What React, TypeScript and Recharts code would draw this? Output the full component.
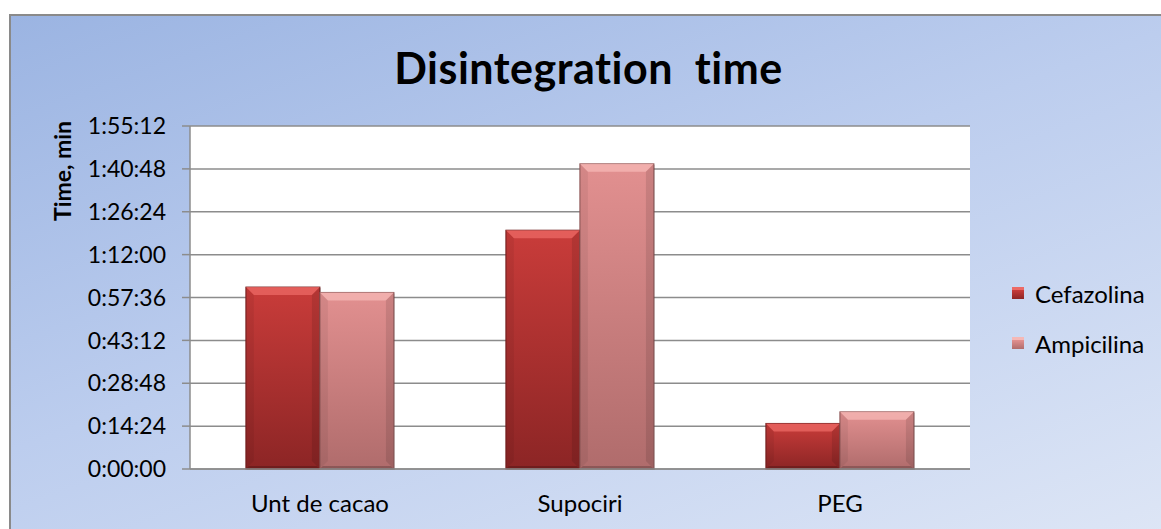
import { BarChart, Bar, XAxis, YAxis, CartesianGrid } from "recharts";

// disintegration time, in minutes
const categories = ["Unt de cacao", "Supociri", "PEG"];
const cefazolina = [61.1, 80.2, 15.3];
const ampicilina = [59.3, 102.5, 19.2];
const yTicks = [0, 14.4, 28.8, 43.2, 57.6, 72, 86.4, 100.8, 115.2];

const data = categories.map((name, i) => ({
  name,
  Cefazolina: cefazolina[i],
  Ampicilina: ampicilina[i],
}));

const FONT = "Lato, 'Open Sans', sans-serif";
const GRID = "#8c8c8c";

const toClock = (min: number) => {
  const s = Math.round(min * 60);
  const h = Math.floor(s / 3600);
  const m = Math.floor((s % 3600) / 60);
  const sec = s % 60;
  return `${h}:${String(m).padStart(2, "0")}:${String(sec).padStart(2, "0")}`;
};

const palette: Record<string, { top: string; bottom: string; light: string; edge: string }> = {
  Cefazolina: { top: "#c93c3a", bottom: "#8c2525", light: "#ec6a66", edge: "#6e1c1c" },
  Ampicilina: { top: "#e29090", bottom: "#b06c6c", light: "#f5b8b6", edge: "#8a5454" },
};

const BevelBar = (props: any) => {
  const { x, y, width, height, dataKey } = props;
  if (!height || height <= 0) return null;
  const c = palette[dataKey];
  const b = Math.min(8, height / 2);
  return (
    <g>
      <rect x={x + 1} y={y + 1} width={width} height={height} fill="rgba(0,0,0,0.18)" />
      <rect x={x} y={y} width={width} height={height} fill={`url(#grad-${dataKey})`} stroke={c.edge} strokeWidth={1} />
      <polygon
        points={`${x},${y} ${x + width},${y} ${x + width - b},${y + b} ${x + b},${y + b}`}
        fill={c.light}
        opacity={0.75}
      />
      <polygon
        points={`${x},${y} ${x + b},${y + b} ${x + b},${y + height - b} ${x},${y + height}`}
        fill="rgba(0,0,0,0.06)"
      />
      <polygon
        points={`${x + width},${y} ${x + width - b},${y + b} ${x + width - b},${y + height - b} ${x + width},${y + height}`}
        fill="rgba(0,0,0,0.1)"
      />
      <polygon
        points={`${x},${y + height} ${x + 3},${y + height - 3} ${x + width - 3},${y + height - 3} ${x + width},${y + height}`}
        fill="rgba(0,0,0,0.2)"
      />
    </g>
  );
};

const LegendBox = () => (
  <div style={{ position: "absolute", left: 1012, top: 268, fontFamily: FONT, fontSize: 24, color: "#000" }}>
    {["Cefazolina", "Ampicilina"].map((k) => (
      <div key={k} style={{ display: "flex", alignItems: "center", height: 50 }}>
        <span
          style={{
            display: "inline-block",
            width: 12,
            height: 12,
            marginRight: 11,
            background: `linear-gradient(${palette[k].top}, ${palette[k].bottom})`,
            borderTop: `3px solid ${palette[k].light}`,
            boxSizing: "border-box",
          }}
        />
        {k}
      </div>
    ))}
  </div>
);

export default function App() {
  return (
    <div style={{ position: "absolute", left: 0, top: 0, width: 1161, height: 529, background: "#fff", overflow: "hidden" }}>
      <div
        style={{
          position: "absolute",
          left: 9,
          top: 14,
          width: 1170,
          height: 540,
          border: "2px solid #8a8a8a",
          background: "linear-gradient(160deg, #9bb4e2 0%, #bccdee 45%, #dfe7f6 100%)",
        }}
      />
      <div
        style={{
          position: "absolute",
          left: 0,
          width: 1177,
          top: 42,
          textAlign: "center",
          fontFamily: FONT,
          fontWeight: 700,
          fontSize: 43,
          letterSpacing: 0.5,
          color: "#000",
        }}
      >
        Disintegration&nbsp;&nbsp;time
      </div>
      <div
        style={{
          position: "absolute",
          left: 62,
          top: 171,
          transform: "translate(-50%, -50%) rotate(-90deg)",
          whiteSpace: "nowrap",
          fontFamily: FONT,
          fontWeight: 700,
          fontSize: 23,
          color: "#000",
        }}
      >
        Time, min
      </div>
      <div style={{ position: "absolute", left: 0, top: 0 }}>
        <BarChart
          width={1161}
          height={529}
          data={data}
          margin={{ top: 126, right: 191, bottom: 0, left: 0 }}
          barCategoryGap="21.5%"
          barGap={0}
        >
          <defs>
            {Object.keys(palette).map((k) => (
              <linearGradient key={k} id={`grad-${k}`} x1="0" y1="0" x2="0" y2="1">
                <stop offset="0%" stopColor={palette[k].top} />
                <stop offset="100%" stopColor={palette[k].bottom} />
              </linearGradient>
            ))}
          </defs>
          <CartesianGrid vertical={false} stroke={GRID} strokeWidth={1.5} fill="#ffffff" fillOpacity={1} />
          <XAxis
            dataKey="name"
            height={60}
            axisLine={{ stroke: GRID, strokeWidth: 1.5 }}
            tickLine={false}
            tickMargin={20}
            tick={{ fontFamily: FONT, fontSize: 24, fill: "#000" }}
          />
          <YAxis
            width={190}
            domain={[0, 115.2]}
            ticks={yTicks}
            interval={0}
            tickFormatter={toClock}
            axisLine={{ stroke: GRID, strokeWidth: 1.5 }}
            tickLine={{ stroke: GRID, strokeWidth: 1.5 }}
            tickSize={8}
            tickMargin={16}
            tick={{ fontFamily: FONT, fontSize: 23, fill: "#000" }}
          />
          <Bar dataKey="Cefazolina" fill="#b83232" shape={BevelBar} isAnimationActive={false} />
          <Bar dataKey="Ampicilina" fill="#d08080" shape={BevelBar} isAnimationActive={false} />
        </BarChart>
      </div>
      <LegendBox />
    </div>
  );
}
